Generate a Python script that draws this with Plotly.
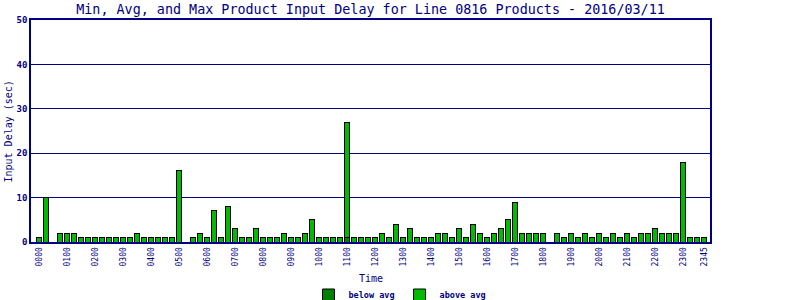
import plotly.graph_objects as go

tick_labels = ["0000", "0100", "0200", "0300", "0400", "0500", "0600", "0700",
               "0800", "0900", "1000", "1100", "1200", "1300", "1400", "1500",
               "1600", "1700", "1800", "1900", "2000", "2100", "2200", "2300", "2345"]

# 96 quarter-hour slots, max input delay (sec); None = no data
max_delay = [1, 10, None, 2, 2, 2, 1, 1,
             1, 1, 1, 1, 1, 1, 2, 1,
             1, 1, 1, 1, 16, None, 1, 2,
             1, 7, 1, 8, 3, 1, 1, 3,
             1, 1, 1, 2, 1, 1, 2, 5,
             1, 1, 1, 1, 27, 1, 1, 1,
             1, 2, 1, 4, 1, 3, 1, 1,
             1, 2, 2, 1, 3, 1, 4, 2,
             1, 2, 3, 5, 9, 2, 2, 2,
             2, None, 2, 1, 2, 1, 2, 1,
             2, 1, 2, 1, 2, 1, 2, 2,
             3, 2, 2, 2, 18, 1, 1, 1]

# below-average portion (only visible on the 1100 slot)
below_avg = [None] * 96
below_avg[44] = 1

slots = list(range(96))
above_avg = [None if m is None else m - (b or 0) for m, b in zip(max_delay, below_avg)]
tick_vals = list(range(0, 96, 4)) + [95]

NAVY = "#000080"
FONT = "DejaVu Sans Mono"

fig = go.Figure()
fig.add_trace(go.Bar(x=slots, y=below_avg, name="below avg",
                     marker=dict(color="#008000", line=dict(color="black", width=1)),
                     width=0.8))
fig.add_trace(go.Bar(x=slots, y=above_avg, name="above avg",
                     marker=dict(color="#00BB00", line=dict(color="black", width=1)),
                     width=0.8))

fig.update_layout(
    width=800, height=300,
    margin=dict(l=31, r=90, t=20, b=58, autoexpand=False),
    paper_bgcolor="white", plot_bgcolor="white",
    barmode="stack",
    font=dict(family=FONT, color=NAVY, size=9),
    title=dict(text="Min, Avg, and Max Product Input Delay for Line 0816 Products - 2016/03/11",
               font=dict(family=FONT, size=13.4, color=NAVY),
               x=(370.5 / 800), xanchor="center", y=1 - 9 / 300, yanchor="middle",
               yref="container"),
    showlegend=True,
    legend=dict(orientation="h", x=(400 - 31) / 679, xanchor="center",
                y=-(295 - 242) / 222, yanchor="middle", traceorder="normal",
                font=dict(family=FONT, size=8.5, color=NAVY, weight="bold"),
                bgcolor="rgba(0,0,0,0)", itemwidth=30),
)

fig.update_xaxes(
    range=[-1.14, 95.86], automargin=False,
    tickmode="array", tickvals=tick_vals, ticktext=tick_labels,
    tickangle=-90, tickfont=dict(family=FONT, size=8, color=NAVY),
    showline=True, linecolor=NAVY, linewidth=2, mirror=True,
    showgrid=False, zeroline=False, ticks="",
)
fig.update_yaxes(
    range=[0, 50], dtick=10, automargin=False,
    tickfont=dict(family=FONT, size=9, color=NAVY, weight="bold"),
    showline=True, linecolor=NAVY, linewidth=1.5, mirror=True,
    showgrid=True, gridcolor=NAVY, gridwidth=1, zeroline=False, ticks="",
)

fig.add_annotation(text="Input Delay (sec)", textangle=-90, xref="paper", yref="paper",
                   x=-(31 - 7.5) / 679, y=(242 - 132) / 222, xanchor="center", yanchor="middle",
                   showarrow=False, font=dict(family=FONT, size=10, color=NAVY))
fig.add_annotation(text="Time", xref="paper", yref="paper",
                   x=0.5, y=-(278 - 242) / 222, xanchor="center", yanchor="middle",
                   showarrow=False, font=dict(family=FONT, size=10, color=NAVY))

fig.write_html("out.html")
